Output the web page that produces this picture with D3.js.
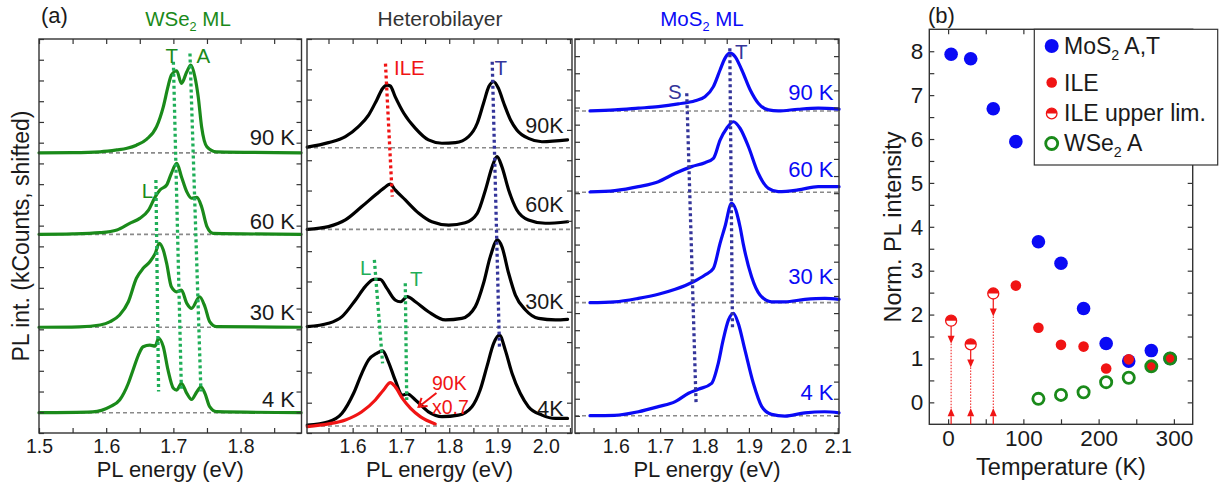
<!DOCTYPE html>
<html>
<head>
<meta charset="utf-8">
<script src="https://cdn.jsdelivr.net/npm/d3@7"></script>
<style>
  body { margin: 0; background: #fff; }
  text { font-family: "Liberation Sans", Arial, sans-serif; }
</style>
</head>
<body>
<svg id="fig" width="1222" height="488"></svg>
<script>
// ---- (a) PL spectra: [energy (eV), PL int. shifted] ----
var wse2_90K = [[1.50,13.51],[1.55,13.52],[1.591,13.56],[1.616,13.65],[1.631,13.73],[1.645,13.88],[1.66,14.16],[1.675,14.77],[1.685,15.73],[1.692,16.70],[1.697,17.26],[1.705,17.47],[1.712,16.86],[1.720,17.42],[1.726,17.74],[1.732,17.18],[1.737,16.21],[1.742,14.77],[1.750,13.80],[1.764,13.56],[1.89,13.51]];
var wse2_60K = [[1.50,9.58],[1.55,9.60],[1.591,9.66],[1.616,9.79],[1.635,10.11],[1.65,10.35],[1.663,10.75],[1.673,11.39],[1.68,11.72],[1.69,11.96],[1.697,12.52],[1.705,13.0],[1.712,12.36],[1.72,11.63],[1.727,11.32],[1.735,11.36],[1.742,10.91],[1.75,9.95],[1.759,9.63],[1.89,9.58]];
var wse2_30K = [[1.50,5.10],[1.56,5.12],[1.591,5.21],[1.606,5.37],[1.62,5.69],[1.633,6.33],[1.645,7.46],[1.655,7.94],[1.665,8.26],[1.673,8.66],[1.679,9.15],[1.685,8.82],[1.69,8.18],[1.697,7.05],[1.705,6.81],[1.712,6.89],[1.72,6.25],[1.727,6.01],[1.739,6.57],[1.747,6.09],[1.754,5.37],[1.764,5.13],[1.89,5.10]];
var wse2_4K = [[1.50,0.98],[1.58,1.02],[1.606,1.27],[1.62,1.59],[1.633,2.40],[1.64,3.04],[1.648,3.76],[1.655,4.16],[1.665,4.24],[1.673,4.19],[1.678,4.57],[1.685,4.16],[1.692,3.04],[1.70,2.16],[1.705,2.07],[1.712,2.40],[1.72,1.91],[1.727,1.62],[1.735,1.99],[1.741,2.23],[1.747,1.91],[1.754,1.27],[1.764,1.03],[1.89,0.98]];

var het_90K = [[1.506,9.43],[1.55,9.58],[1.585,9.78],[1.612,10.11],[1.633,10.49],[1.65,10.99],[1.662,11.37],[1.671,11.48],[1.678,11.45],[1.688,11.10],[1.706,10.55],[1.73,10.05],[1.757,9.67],[1.785,9.56],[1.813,9.58],[1.84,9.78],[1.858,10.22],[1.871,10.88],[1.882,11.43],[1.892,11.59],[1.902,11.37],[1.913,10.88],[1.927,10.33],[1.94,10.0],[1.964,9.72],[1.992,9.61],[2.045,9.67]];
var het_60K = [[1.506,6.72],[1.55,6.81],[1.585,7.03],[1.619,7.47],[1.647,7.85],[1.664,8.07],[1.678,8.21],[1.688,8.02],[1.709,7.69],[1.737,7.25],[1.764,6.97],[1.799,6.86],[1.833,6.94],[1.858,7.25],[1.875,8.02],[1.889,8.79],[1.899,9.12],[1.909,8.79],[1.923,8.02],[1.94,7.36],[1.964,7.03],[1.999,6.92],[2.045,6.97]];
var het_30K = [[1.506,3.51],[1.55,3.62],[1.578,3.84],[1.606,4.39],[1.626,4.83],[1.644,5.07],[1.657,5.07],[1.671,4.77],[1.688,4.39],[1.699,4.33],[1.713,4.50],[1.73,4.33],[1.757,4.0],[1.792,3.73],[1.826,3.78],[1.854,4.17],[1.871,4.94],[1.885,5.82],[1.90,6.37],[1.909,6.15],[1.923,5.27],[1.937,4.55],[1.958,4.06],[1.985,3.78],[2.02,3.73],[2.045,3.75]];
var het_4K = [[1.506,0.26],[1.55,0.37],[1.578,0.65],[1.602,1.31],[1.619,1.97],[1.633,2.41],[1.65,2.63],[1.662,2.71],[1.674,2.35],[1.688,1.75],[1.703,1.25],[1.713,1.29],[1.73,1.09],[1.757,0.70],[1.785,0.54],[1.819,0.59],[1.847,0.87],[1.864,1.42],[1.878,2.19],[1.892,2.96],[1.904,3.23],[1.916,2.74],[1.93,1.97],[1.947,1.31],[1.964,0.87],[1.992,0.59],[2.02,0.48],[2.045,0.48]];
var het_90K_x07 = [[1.506,0.21],[1.55,0.30],[1.585,0.43],[1.619,0.70],[1.647,1.09],[1.664,1.42],[1.678,1.66],[1.688,1.53],[1.703,1.14],[1.72,0.81],[1.74,0.54],[1.771,0.30]];

var mos2_90K = [[1.542,18.8],[1.598,18.86],[1.651,18.96],[1.696,19.05],[1.741,19.21],[1.779,19.40],[1.801,19.63],[1.82,20.22],[1.835,21.19],[1.846,21.87],[1.857,22.17],[1.869,21.97],[1.884,21.19],[1.903,20.02],[1.921,19.25],[1.944,18.86],[1.966,18.80],[2.011,18.90],[2.056,18.96],[2.103,18.91]];
var mos2_60K = [[1.542,14.07],[1.598,14.15],[1.651,14.38],[1.696,14.67],[1.734,15.16],[1.771,15.55],[1.801,15.78],[1.82,16.03],[1.835,17.10],[1.85,17.79],[1.865,18.17],[1.88,17.79],[1.899,16.71],[1.921,15.16],[1.944,14.28],[1.966,14.09],[2.011,14.19],[2.056,14.38],[2.103,14.38]];
var mos2_30K = [[1.542,7.61],[1.598,7.66],[1.651,7.86],[1.696,8.10],[1.734,8.39],[1.775,8.83],[1.801,9.22],[1.82,9.61],[1.835,11.07],[1.846,12.04],[1.861,13.41],[1.88,12.04],[1.887,11.07],[1.906,9.12],[1.925,8.06],[1.951,7.66],[1.981,7.66],[2.026,7.80],[2.071,7.86],[2.103,7.80]];
var mos2_4K = [[1.542,1.01],[1.598,1.03],[1.651,1.24],[1.696,1.54],[1.734,1.83],[1.764,2.32],[1.786,2.55],[1.816,2.90],[1.831,4.07],[1.842,5.43],[1.854,6.60],[1.865,6.99],[1.876,6.40],[1.891,4.85],[1.91,2.90],[1.929,1.54],[1.951,1.09],[1.981,0.99],[2.026,1.18],[2.071,1.24],[2.103,1.18]];

// zero lines of the shifted spectra (90, 60, 30, 4 K)
var wse2Base = [13.51, 9.58, 5.10, 0.98];
var hetBase = [9.41, 6.72, 3.49, 0.23];
var mos2Base = [18.80, 14.05, 7.61, 1.01];

// peak guide lines [start, end]
var wse2GuideT = [[1.700,17.9],[1.712,2.0]];
var wse2GuideA = [[1.7247,18.3],[1.741,2.0]];
var wse2GuideL = [[1.674,12.2],[1.678,2.0]];
var hetGuideILE = [[1.668,12.19],[1.682,7.8]];
var hetGuideT = [[1.889,12.25],[1.904,2.85]];
var hetGuideL = [[1.645,5.71],[1.662,2.30]];
var hetGuideT2 = [[1.709,4.94],[1.712,1.09]];
var mos2GuideS = [[1.760,19.83],[1.781,1.73]];
var mos2GuideT = [[1.857,22.46],[1.863,6.11]];

var tempLabels = ["90 K", "60 K", "30 K", "4 K"];
var hetTempLabels = ["90K", "60K", "30K", "4K"];

// ---- (b) normalised PL intensity vs temperature ----
var tMoS2 = [4, 30, 60, 90, 120, 150, 180, 210, 240, 270, 295];
var mos2AT = [7.93, 7.83, 6.69, 5.94, 3.66, 3.17, 2.14, 1.34, 0.94, 1.18, 1.0];
var tILE = [90, 120, 150, 180, 210, 240, 270, 295];
var ile = [2.66, 1.70, 1.31, 1.27, 0.77, 0.98, 0.83, 1.0];
var tILEUpper = [4, 30, 60];
var ileUpper = [1.86, 1.32, 2.48];
var tWSe2 = [120, 150, 180, 210, 240, 270, 295];
var wse2A = [0.08, 0.17, 0.23, 0.46, 0.56, 0.82, 1.0];

var GREEN = "#1a8a1a", GUIDE_GREEN = "#1fae58", BLUE = "#0a0af5",
    NAVY = "#34359a", RED = "#f01414", INK = "#1a1a1a";

var svg = d3.select("#fig");

function styleAxis(sel, size) {
  sel.select(".domain").remove();
  sel.selectAll(".tick line").attr("stroke", "#333").attr("stroke-width", 1.2);
  sel.selectAll(".tick text").attr("fill", INK).attr("font-size", size)
      .attr("font-family", "Liberation Sans, Arial, sans-serif");
  sel.selectAll(".tick text").filter(function() { return this.textContent === ""; }).remove();
}

function frame(g, x, y, xTicks, xFmt, yTicks, yFmt, fs, xPad, yPad) {
  var x0 = x.range()[0], x1 = x.range()[1], yb = y.range()[0], yt = y.range()[1];
  g.append("g").attr("transform", "translate(0," + yb + ")")
      .call(d3.axisBottom(x).tickValues(xTicks).tickFormat(xFmt)
        .tickSizeInner(-5).tickSizeOuter(0).tickPadding(xPad))
      .call(styleAxis, fs);
  g.append("g").attr("transform", "translate(0," + yt + ")")
      .call(d3.axisTop(x).tickValues(xTicks).tickFormat("").tickSizeInner(-5).tickSizeOuter(0))
      .call(styleAxis, fs);
  g.append("g").attr("transform", "translate(" + x0 + ",0)")
      .call(d3.axisLeft(y).tickValues(yTicks).tickFormat(yFmt)
        .tickSizeInner(-5).tickSizeOuter(0).tickPadding(yPad))
      .call(styleAxis, fs);
  g.append("g").attr("transform", "translate(" + x1 + ",0)")
      .call(d3.axisRight(y).tickValues(yTicks).tickFormat("").tickSizeInner(-5).tickSizeOuter(0))
      .call(styleAxis, fs);
  g.append("rect").attr("x", x0).attr("y", yt).attr("width", x1 - x0).attr("height", yb - yt)
      .attr("fill", "none").attr("stroke", "#333").attr("stroke-width", 1.4);
}

function label(g, txt, x, y, color, size, anchor) {
  return g.append("text").attr("x", x).attr("y", y).attr("fill", color)
      .attr("font-size", size).attr("text-anchor", anchor || "start").text(txt);
}

// text with a subscript "2", e.g. WSe2 ML
function subLabel(g, parts, x, y, color, size, anchor) {
  var t = g.append("text").attr("x", x).attr("y", y).attr("fill", color)
      .attr("font-size", size).attr("text-anchor", anchor || "start");
  t.append("tspan").text(parts[0]);
  t.append("tspan").attr("font-size", size * 0.62).attr("dy", size * 0.25).text("2");
  t.append("tspan").attr("dy", -size * 0.25).text(parts[1]);
  return t;
}

function spectrumPanel(opt) {
  var x = d3.scaleLinear().domain(opt.xDomain).range([opt.x0, opt.x1]);
  var y = d3.scaleLinear().domain(opt.yDomain).range([433, 39]);
  var g = svg.append("g");

  g.selectAll("line.base").data(opt.baselines).join("line")
      .attr("class", "base")
      .attr("x1", opt.x0).attr("x2", opt.x1)
      .attr("y1", function(d) { return y(d); })
      .attr("y2", function(d) { return y(d); })
      .attr("stroke", "#8a8a8a").attr("stroke-width", 1.6)
      .attr("stroke-dasharray", "4,3");

  var line = d3.line()
      .x(function(d) { return x(d[0]); })
      .y(function(d) { return y(d[1]); })
      .curve(d3.curveMonotoneX);

  opt.curves.forEach(function(c) {
    g.append("path").datum(c.data)
        .attr("d", line).attr("fill", "none")
        .attr("stroke", c.color).attr("stroke-width", 3.2)
        .attr("stroke-linejoin", "round").attr("stroke-linecap", "round");
  });

  var straight = d3.line()
      .x(function(d) { return x(d[0]); })
      .y(function(d) { return y(d[1]); });
  opt.guides.forEach(function(c) {
    g.append("path").datum(c.data)
        .attr("d", straight).attr("fill", "none")
        .attr("stroke", c.color).attr("stroke-width", 3.3)
        .attr("stroke-dasharray", "3,3");
  });

  var lo = opt.xDomain[0], hi = opt.xDomain[1];
  var xt = d3.range(Math.ceil(lo * 20 - 1e-6), Math.floor(hi * 20 + 1e-6) + 1)
      .map(function(k) { return k / 20; });
  var yt = d3.range(opt.yDomain[0], opt.yDomain[1] + 1);
  frame(g, x, y, xt, function(d) {
    return Math.round(d * 20) % 2 === 0 ? d3.format(".1f")(d) : "";
  }, yt, "", 19.5, 6, 4);

  label(g, "PL energy (eV)", (opt.x0 + opt.x1) / 2, 477, INK, 22, "middle");

  opt.tempLabels.forEach(function(t, i) {
    label(g, t, opt.tempX, opt.tempY[i], opt.tempColor, opt.tempSize, "end");
  });
  return {x: x, y: y, g: g};
}

// ----- WSe2 ML -----
var pw = spectrumPanel({
  x0: 39, x1: 301.5, xDomain: [1.5, 1.8907], yDomain: [0, 19],
  baselines: wse2Base,
  curves: [wse2_90K, wse2_60K, wse2_30K, wse2_4K].map(function(d) { return {data: d, color: GREEN}; }),
  guides: [wse2GuideT, wse2GuideA, wse2GuideL].map(function(d) { return {data: d, color: GUIDE_GREEN}; }),
  tempLabels: tempLabels, tempX: 295, tempY: [145, 229, 320, 406.5], tempColor: INK, tempSize: 22
});
label(pw.g, "T", pw.x(1.6975), 62.5, GREEN, 20.5, "middle");
label(pw.g, "A", pw.x(1.7445), 62.5, GREEN, 20.5, "middle");
label(pw.g, "L", pw.x(1.6615), 198, GREEN, 20.5, "middle");
subLabel(pw.g, ["WSe", " ML"], 188, 26, GREEN, 20.5, "middle");

// ----- Heterobilayer -----
var ph = spectrumPanel({
  x0: 307, x1: 572, xDomain: [1.5055, 2.0542], yDomain: [0, 13],
  baselines: hetBase,
  curves: [het_90K, het_60K, het_30K, het_4K].map(function(d) { return {data: d, color: "#000"}; })
      .concat([{data: het_90K_x07, color: RED}]),
  guides: [{data: hetGuideILE, color: RED}, {data: hetGuideT, color: NAVY},
           {data: hetGuideL, color: GUIDE_GREEN}, {data: hetGuideT2, color: GUIDE_GREEN}],
  tempLabels: hetTempLabels, tempX: 563.5, tempY: [133, 211.5, 308.5, 416], tempColor: INK, tempSize: 21.5
});
label(ph.g, "ILE", 394, 75, RED, 20.5);
label(ph.g, "T", 494.5, 75, NAVY, 20.5);
label(ph.g, "L", 360, 275, GUIDE_GREEN, 20.5);
label(ph.g, "T", 410, 286, GUIDE_GREEN, 20.5);
label(ph.g, "90K", 432, 390, RED, 19.5);
label(ph.g, "x0.7", 432, 413.5, RED, 19.5);
// arrow to the scaled 90 K curve
ph.g.append("path")
    .attr("d", "M" + ph.x(1.7735) + "," + ph.y(1.32) + "L" + ph.x(1.7365) + "," + ph.y(0.86))
    .attr("stroke", RED).attr("stroke-width", 2).attr("fill", "none");
ph.g.append("path")
    .attr("d", "M" + (ph.x(1.7365) + 9) + "," + (ph.y(0.86) - 1) + "L" + ph.x(1.7365) + "," + ph.y(0.86) +
      "L" + (ph.x(1.7365) + 3) + "," + (ph.y(0.86) - 9))
    .attr("stroke", RED).attr("stroke-width", 2).attr("fill", "none");
label(ph.g, "Heterobilayer", 440, 26, "#333", 21, "middle");

// ----- MoS2 ML -----
var pm = spectrumPanel({
  x0: 575, x1: 839, xDomain: [1.5083, 2.1029], yDomain: [0, 23],
  baselines: mos2Base,
  curves: [mos2_90K, mos2_60K, mos2_30K, mos2_4K].map(function(d) { return {data: d, color: BLUE}; }),
  guides: [mos2GuideS, mos2GuideT].map(function(d) { return {data: d, color: NAVY}; }),
  tempLabels: tempLabels, tempX: 833.5, tempY: [99.5, 177, 283.5, 400], tempColor: BLUE, tempSize: 22
});
label(pm.g, "S", 668, 98.5, NAVY, 20.5);
label(pm.g, "T", 735, 58.5, NAVY, 20.5);
subLabel(pm.g, ["MoS", " ML"], 702, 26, BLUE, 20.5, "middle");

label(svg, "(a)", 41, 23, INK, 22);
svg.append("text").attr("transform", "translate(29,236) rotate(-90)")
    .attr("text-anchor", "middle").attr("font-size", 23).attr("fill", INK)
    .text("PL int. (kCounts, shifted)");

// ----- (b) -----
var bx = d3.scaleLinear().domain([-25, 325]).range([929.3, 1192.7]);
var by = d3.scaleLinear().domain([-0.5, 8.5]).range([424.3, 29.3]);
var gb = svg.append("g");

frame(gb, bx, by, d3.range(0, 301, 50), function(d) { return d % 100 === 0 ? d : ""; },
  d3.range(0, 17).map(function(k) { return k / 2; }),
  function(d) { return d % 1 === 0 ? d : ""; }, 22.5, 6, 6);

function halfCircle(g, cx, cy, r) {
  g.append("circle").attr("cx", cx).attr("cy", cy).attr("r", r)
      .attr("fill", "#fff").attr("stroke", RED).attr("stroke-width", 1.3);
  g.append("path")
      .attr("d", "M" + (cx - r) + "," + cy + "A" + r + "," + r + " 0 0 1 " + (cx + r) + "," + cy + "Z")
      .attr("fill", RED);
}

// upper limits with arrows
d3.zip(tILEUpper, ileUpper).forEach(function(d) {
  var cx = bx(d[0]), cy = by(d[1]), yb = by(-0.5), yu = yb - 12;
  gb.append("line").attr("x1", cx).attr("x2", cx).attr("y1", cy).attr("y2", cy + 16)
      .attr("stroke", RED).attr("stroke-width", 1.2);
  gb.append("path").attr("d", "M" + (cx - 3.5) + "," + (cy + 15) + "L" + (cx + 3.5) + "," + (cy + 15) +
      "L" + cx + "," + (cy + 23) + "Z").attr("fill", RED);
  gb.append("line").attr("x1", cx).attr("x2", cx).attr("y1", cy + 23).attr("y2", yu)
      .attr("stroke", RED).attr("stroke-width", 1).attr("stroke-dasharray", "1.5,1.5");
  gb.append("path").attr("d", "M" + (cx - 3.5) + "," + (yu + 4) + "L" + (cx + 3.5) + "," + (yu + 4) +
      "L" + cx + "," + (yu - 4) + "Z").attr("fill", RED);
  gb.append("line").attr("x1", cx).attr("x2", cx).attr("y1", yu + 4).attr("y2", yb)
      .attr("stroke", RED).attr("stroke-width", 1.2);
  halfCircle(gb, cx, cy, 5.5);
});

gb.selectAll("circle.mos2").data(d3.zip(tMoS2, mos2AT)).join("circle")
    .attr("class", "mos2")
    .attr("cx", function(d) { return bx(d[0]); })
    .attr("cy", function(d) { return by(d[1]); })
    .attr("r", 6.8).attr("fill", BLUE);
gb.selectAll("circle.ile").data(d3.zip(tILE, ile)).join("circle")
    .attr("class", "ile")
    .attr("cx", function(d) { return bx(d[0]); })
    .attr("cy", function(d) { return by(d[1]); })
    .attr("r", 5.3).attr("fill", RED);
gb.selectAll("circle.wse2").data(d3.zip(tWSe2, wse2A)).join("circle")
    .attr("class", "wse2")
    .attr("cx", function(d) { return bx(d[0]); })
    .attr("cy", function(d) { return by(d[1]); })
    .attr("r", 5.6).attr("fill", "none").attr("stroke", GREEN).attr("stroke-width", 2.8);

// legend
var lg = gb.append("g");
lg.append("rect").attr("x", 1034.3).attr("y", 29.3).attr("width", 183.4).attr("height", 135.7)
    .attr("fill", "#fff").attr("stroke", "#333").attr("stroke-width", 1.2);
lg.append("circle").attr("cx", 1051.7).attr("cy", 46).attr("r", 7).attr("fill", BLUE);
lg.append("circle").attr("cx", 1051.7).attr("cy", 82.5).attr("r", 5.3).attr("fill", RED);
halfCircle(lg, 1051.7, 113.5, 5.3);
lg.append("circle").attr("cx", 1051.7).attr("cy", 143.5).attr("r", 6).attr("fill", "none")
    .attr("stroke", GREEN).attr("stroke-width", 2.8);
subLabel(lg, ["MoS", " A,T"], 1064, 54, INK, 23);
label(lg, "ILE", 1064, 91, INK, 23);
label(lg, "ILE upper lim.", 1064, 121, INK, 23);
subLabel(lg, ["WSe", " A"], 1064, 151, INK, 23);

label(svg, "(b)", 928, 23, INK, 22);
label(svg, "Temperature (K)", 1061, 475, INK, 23.5, "middle");
svg.append("text").attr("transform", "translate(901,227) rotate(-90)")
    .attr("text-anchor", "middle").attr("font-size", 23.5).attr("fill", INK)
    .text("Norm. PL intensity");
</script>
</body>
</html>
